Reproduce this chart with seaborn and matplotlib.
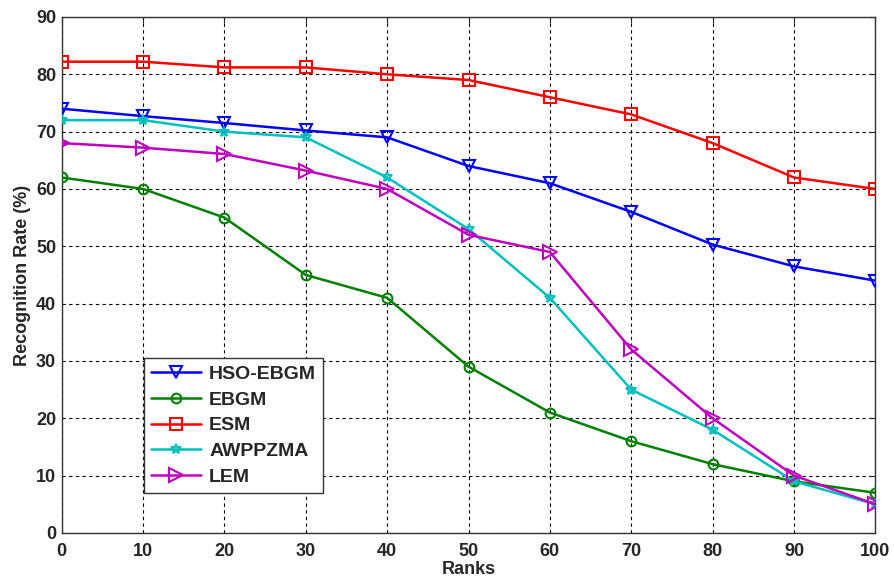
import matplotlib
matplotlib.use("Agg")
import matplotlib.pyplot as plt
import seaborn as sns
import pandas as pd

ranks = [0, 10, 20, 30, 40, 50, 60, 70, 80, 90, 100]
hso_ebgm = [74, 72.7, 71.5, 70.2, 69, 64, 61, 56, 50.3, 46.5, 44]
ebgm = [62, 60, 55, 45, 41, 29, 21, 16, 12, 9, 7]
esm = [82.2, 82.2, 81.2, 81.2, 80, 79, 76, 73, 68, 62, 60]
awppzma = [72, 72, 70, 69, 62, 53, 41, 25, 18, 9, 5]
lem = [68, 67.2, 66.1, 63.2, 60, 52, 49, 32, 20, 10, 5]

names = ["HSO-EBGM", "EBGM", "ESM", "AWPPZMA", "LEM"]
series = [hso_ebgm, ebgm, esm, awppzma, lem]
colors = ["#0000ff", "#008000", "#ff0000", "#00bfbf", "#bf00bf"]
markers = ["v", "o", "s", "*", ">"]
msizes = [9, 7, 9, 7, 10]

sns.set_style("white")
plt.rcParams['font.family'] = ['Liberation Sans', 'DejaVu Sans']
plt.rcParams['font.weight'] = 'bold'

fig = plt.figure(figsize=(8.95, 5.85), dpi=100)
ax = fig.add_axes([0.069, 0.089, 0.909, 0.882])

for name, vals, c, m, ms in zip(names, series, colors, markers, msizes):
    df = pd.DataFrame({"Ranks": ranks, "Rate": vals})
    sns.lineplot(data=df, x="Ranks", y="Rate", ax=ax, color=c, marker=m,
                 markersize=ms, markerfacecolor="none", markeredgecolor=c,
                 markeredgewidth=1.5, linewidth=1.8, label=name, zorder=3)

ax.set_xlim(0, 100)
ax.set_ylim(0, 90)
ax.set_xticks(range(0, 101, 10))
ax.set_yticks(range(0, 91, 10))
ax.grid(True, color="black", linestyle=(0, (3, 3)), linewidth=0.8)
ax.tick_params(axis="both", direction="in", length=4, labelsize=13, width=0.8,
               top=True, right=True)
ax.tick_params(axis="x", pad=7)
ax.tick_params(axis="y", pad=4)
for lab in ax.get_xticklabels() + ax.get_yticklabels():
    lab.set_fontweight("bold")
for s in ax.spines.values():
    s.set_color("#333333")
    s.set_linewidth(1.0)
ax.set_xlabel("Ranks", fontsize=13, fontweight="bold", labelpad=1)
ax.set_ylabel("Recognition Rate (%)", fontsize=13, fontweight="bold", labelpad=4)

leg = ax.legend(loc="lower left", bbox_to_anchor=(0.101, 0.078), prop={"size": 14, "weight": "bold"},
                frameon=True, fancybox=False, edgecolor="#333333", framealpha=1,
                borderpad=0.35, labelspacing=0.42, handlelength=2.6, handletextpad=0.4,
                borderaxespad=0)
leg.get_frame().set_linewidth(1.0)

fig.savefig("out.png", dpi=100)
